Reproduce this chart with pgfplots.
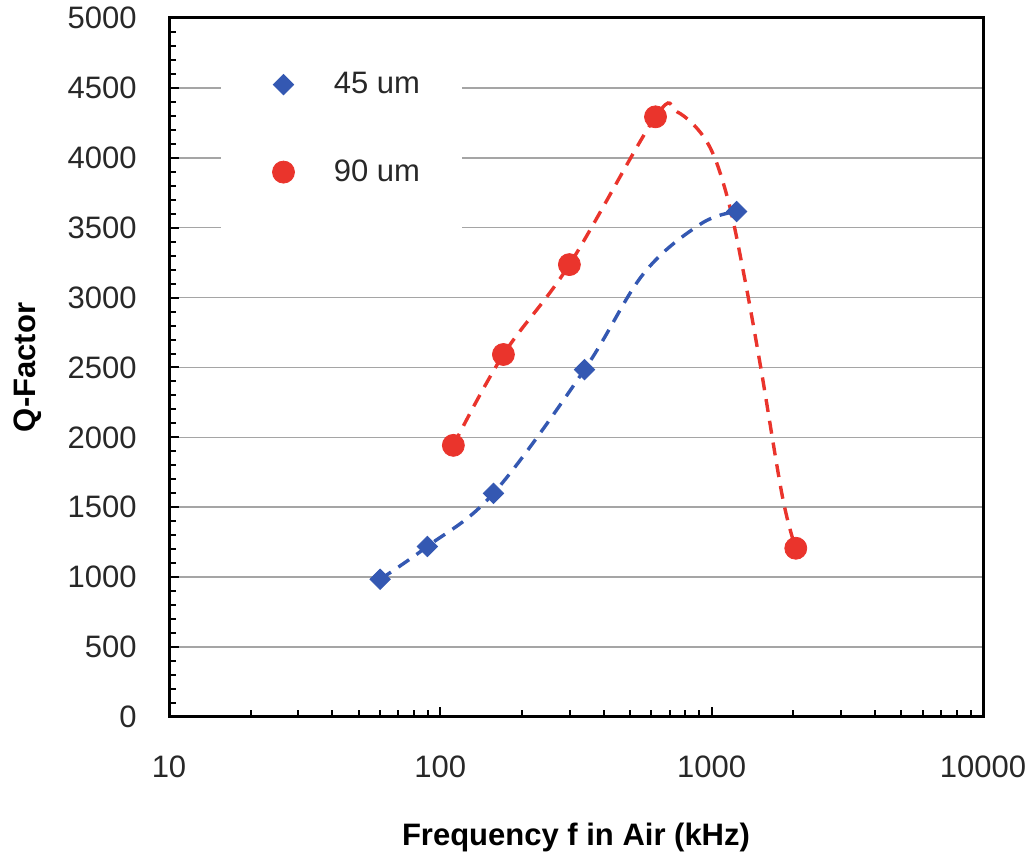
\documentclass[border=0pt]{standalone}
\usepackage{fontspec}
\setmainfont{Liberation Sans}
\usepackage{pgfplots}
\pgfplotsset{compat=1.18}
\definecolor{qblue}{RGB}{52,88,178}
\definecolor{qred}{RGB}{234,52,44}
\definecolor{qgrid}{RGB}{165,165,165}
\definecolor{qtext}{RGB}{40,40,40}

\begin{document}
\begin{tikzpicture}
\begin{axis}[
  scale only axis, width=407pt, height=349.5pt,
  xmode=log, xmin=10, xmax=10000, ymin=0, ymax=5000,
  xtick={10,100,1000,10000}, xticklabels={10,100,1000,10000},
  ytick={0,500,...,5000}, minor y tick num=4,
  tick align=inside, xtick pos=bottom, ytick pos=left,
  major tick length=5pt, minor tick length=3.5pt,
  every tick/.style={black, line width=1pt},
  axis line style={black, line width=1.5pt},
  ymajorgrids, grid style={qgrid, line width=0.8pt},
  /pgf/number format/assume math mode=true,
  /pgf/number format/1000 sep={},
  tick label style={font=\fontsize{15.5}{18}\selectfont, text=qtext, inner sep=0pt},
  yticklabel style={anchor=east, xshift=-16pt},
  xticklabel style={anchor=north, yshift=-19pt},
  label style={font=\bfseries\fontsize{15.5}{18}\selectfont, inner sep=0pt},
  xlabel={Frequency f in Air (kHz)},
  xlabel style={at={(axis description cs:0.5,0)}, anchor=north, yshift=-53pt},
  ylabel={Q-Factor},
  ylabel style={at={(axis description cs:-0.1916,0.5)}, anchor=north},
  legend style={at={(axis description cs:0.212,0.842)}, anchor=center,
    fill=white, draw=none, inner xsep=21pt, inner ysep=22pt, row sep=31.5pt,
    font=\fontsize{15.5}{18}\selectfont, text=qtext, nodes={inner sep=0pt}},
  legend cell align=left,
  legend image code/.code={\path (0pt,0pt) (35pt,0pt); \draw[#1, only marks] plot coordinates {(10pt,0pt)};},
]
% smoothed dashed curves
\addplot[qblue, line width=1.7pt, dash pattern=on 6.5pt off 4.5pt, smooth, tension=0.6, forget plot] coordinates
{(60,985) (89.6,1220) (157,1600) (340,2485) (561,3171) (910,3526) (1236,3615)};
\addplot[qred, line width=1.7pt, dash pattern=on 6.5pt off 4.5pt, smooth, tension=0.6, forget plot] coordinates
{(111.7,1943) (170.8,2593) (299,3236) (621,4293) (747,4328) (964,4109)
 (1143,3716) (1313,3171) (1516,2502) (1824,1574) (2042,1207)};
% measured points
\addplot[qblue, only marks, mark=square*, mark size=3.6pt, mark options={rotate=45}] coordinates
{(60,985) (89.6,1220) (157,1600) (340,2485) (1236,3615)};
\addlegendentry{45 um}
\addplot[qred, only marks, mark=*, mark size=5.5pt] coordinates
{(111.7,1943) (170.8,2593) (299,3236) (621,4293) (2042,1207)};
\addlegendentry{90 um}
\coordinate (ll) at (rel axis cs:0,0);
\coordinate (ur) at (rel axis cs:1,1);
\end{axis}
\path ([shift={(-84.5pt,-67pt)}]ll) rectangle ([shift={(25.5pt,9pt)}]ur);
\end{tikzpicture}
\end{document}
